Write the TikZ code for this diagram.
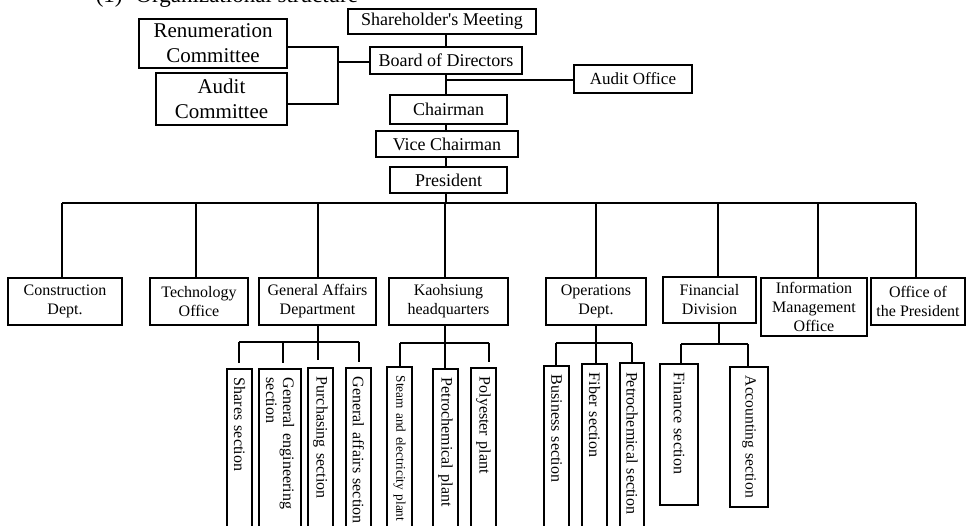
\documentclass[tikz,border=0pt]{standalone}
\usepackage{fontspec}
\setmainfont{Liberation Serif}
\usetikzlibrary{calc}
\begin{document}
\begin{tikzpicture}[x=1pt,y=-1pt,
  line width=1.5pt,
  box/.style={draw, line width=1.5pt, inner sep=0pt, align=center},
  topbox/.style={box, font=\fontsize{18}{21}\selectfont},
  combox/.style={box, font=\fontsize{21}{25}\selectfont},
  deptbox/.style={box, font=\fontsize{16}{19}\selectfont},
  secbox/.style={draw, line width=1.5pt, rotate=-90, anchor=west, inner xsep=9pt, inner ysep=0pt,
    align=left, font=\fontsize{16}{17}\selectfont},
  link/.style={line width=1.5pt}]
\useasboundingbox (0,0) rectangle (966,526);

% title
\node[anchor=base west, inner sep=0pt, font=\fontsize{23}{26}\selectfont] (title) at (95,3) {(1)\hspace{13pt}Organizational structure};

% top chain
\node[topbox, minimum width=188, minimum height=25] (sh) at (442,21.5) {Shareholder\textquotesingle s Meeting};
\node[topbox, minimum width=152, minimum height=27] (bd) at (446,60.5) {Board of Directors};
\node[topbox, minimum width=117, minimum height=29] (ch) at (448.5,109.5) {Chairman};
\node[topbox, minimum width=142, minimum height=26] (vc) at (447,144) {Vice Chairman};
\node[topbox, minimum width=117, minimum height=26] (pr) at (448.5,180) {President};
\node[box, font=\fontsize{17}{20}\selectfont, minimum width=118, minimum height=28] (ao) at (633,79) {Audit Office};
\node[combox, minimum width=148, minimum height=49] (ren) at (213,43.5) {Renumeration\\Committee};
\node[combox, minimum width=131, minimum height=52] (ac) at (221.5,99) {Audit\\Committee};

\coordinate (sp) at (446,0);
\coordinate (bus) at (446,203);
\draw[link] (sh.south -| sp) -- (bd.north -| sp);
\draw[link] (bd.south -| sp) -- (ch.north -| sp);
\draw[link] (ch.south -| sp) -- (vc.north -| sp);
\draw[link] (vc.south -| sp) -- (pr.north -| sp);
\draw[link] (pr.south -| sp) -- (bus);
\coordinate (aoy) at (446,80);
\draw[link] (aoy) -- (ao.west |- aoy);

% committees bracket
\coordinate (brk) at (338,62);
\coordinate (r1) at ([yshift=-3.5pt]ren.east);
\coordinate (a1) at ([yshift=-5pt]ac.east);
\draw[link] (r1) -| (brk |- a1) -- (a1);
\draw[link] (brk) -- (bd.west |- brk);

% departments
\node[deptbox, minimum width=114, minimum height=47] (con) at (65,301.5) {Construction\\Dept.};
\node[deptbox, minimum width=98, minimum height=47] (tech) at (199,301.5) {Technology\\Office};
\node[deptbox, minimum width=117, minimum height=47] (ga) at (317.5,301.5) {General Affairs\\Department};
\node[deptbox, minimum width=119, minimum height=47] (kao) at (448.5,301.5) {Kaohsiung\\headquarters};
\node[deptbox, minimum width=100, minimum height=47] (ops) at (596,301.5) {Operations\\Dept.};
\node[deptbox, minimum width=93, minimum height=46] (fin) at (709.5,300) {Financial\\Division};
\node[deptbox, minimum width=106, minimum height=58] (imo) at (814,307) {Information\\Management\\Office};
\node[deptbox, minimum width=94, minimum height=47] (otp) at (918,301.5) {Office of\\the President};

\coordinate (dcon) at (62,203);
\coordinate (dtech) at (196,203);
\coordinate (dga) at (318,203);
\coordinate (dkao) at (445,203);
\coordinate (dops) at (596,203);
\coordinate (dfin) at (718,203);
\coordinate (dimo) at (818,203);
\coordinate (dotp) at (916,203);
\draw[link] (dcon) -- (dotp);
\foreach \d/\n in {dcon/con,dtech/tech,dga/ga,dkao/kao,dops/ops,dfin/fin,dimo/imo,dotp/otp}
  \draw[link] (\d) -- (\d |- \n.north);

% sections: General Affairs
\node[secbox, minimum height=25, minimum width=170, text width=152] (s1) at (239.5,368) {Shares section};
\node[secbox, minimum height=42, minimum width=170, text width=152] (s2) at (280,368) {General engineering\\section};
\node[secbox, minimum height=25, minimum width=170, text width=152] (s3) at (320.5,367) {Purchasing section};
\node[secbox, minimum height=25, minimum width=170, text width=152] (s4) at (358.5,367) {General affairs section};
\coordinate (gab) at (318,342);
\coordinate (gbl) at (239,342);
\coordinate (gbr) at (359,342);
\coordinate (gb2) at (283,342);
\draw[link] (ga.south -| gab) -- (318,360);
\draw[link] (gbl) -- (gbr);
\draw[link] (gbl) -- ($(gbl |- s1.west)+(0,-5)$);
\draw[link] (gb2) -- ($(gb2 |- s2.west)+(0,-5)$);
\draw[link] (gbr) -- ($(gbr |- s4.west)+(0,-5)$);

% Kaohsiung
\node[secbox, font=\fontsize{13.3}{15}\selectfont, minimum height=25, minimum width=170, text width=152] (k1) at (399.5,366) {Steam and electricity plant};
\node[secbox, minimum height=25, minimum width=170, text width=152] (k2) at (445.5,368) {Petrochemical plant};
\node[secbox, minimum height=25, minimum width=170, text width=152] (k3) at (483.5,367) {Polyester plant};
\coordinate (kbl) at (400,343);
\coordinate (kbr) at (489,343);
\coordinate (kbc) at (445,343);
\draw[link] (kao.south -| kbc) -- (kbc |- k2.west);
\draw[link] (kbl) -- (kbr);
\draw[link] (kbl) -- (kbl |- k1.west);
\draw[link] (kbr) -- ($(kbr |- k3.west)+(0,-5)$);

% Operations
\node[secbox, minimum height=25, minimum width=170, text width=152] (o1) at (556.5,365) {Business section};
\node[secbox, minimum height=25, minimum width=170, text width=152] (o2) at (594.5,363) {Fiber section};
\node[secbox, line width=2.2pt, minimum height=24, minimum width=170, text width=152] (o3) at (632,362) {Petrochemical section};
\coordinate (obl) at (556,343);
\coordinate (obr) at (632,343);
\coordinate (obc) at (596,343);
\draw[link] (ops.south -| obc) -- (obc |- o2.west);
\draw[link] (obl) -- (obr);
\draw[link] (obl) -- (obl |- o1.west);
\draw[link] (obr) -- (obr |- o3.west);

% Financial
\node[secbox, minimum height=38, minimum width=141, text width=123] (f1) at (679,363) {Finance section};
\node[secbox, font=\fontsize{15.6}{17}\selectfont, minimum height=38, minimum width=140, text width=122, inner xsep=9pt] (f2) at (749,366) {\mbox{Accounting section}};
\coordinate (fbl) at (681,344);
\coordinate (fbr) at (748,344);
\coordinate (fbc) at (719,344);
\draw[link] (fin.south -| fbc) -- (fbc);
\draw[link] (fbl) -- (fbr);
\draw[link] (fbl) -- (fbl |- f1.west);
\draw[link] (fbr) -- (fbr |- f2.west);
\end{tikzpicture}
\end{document}
